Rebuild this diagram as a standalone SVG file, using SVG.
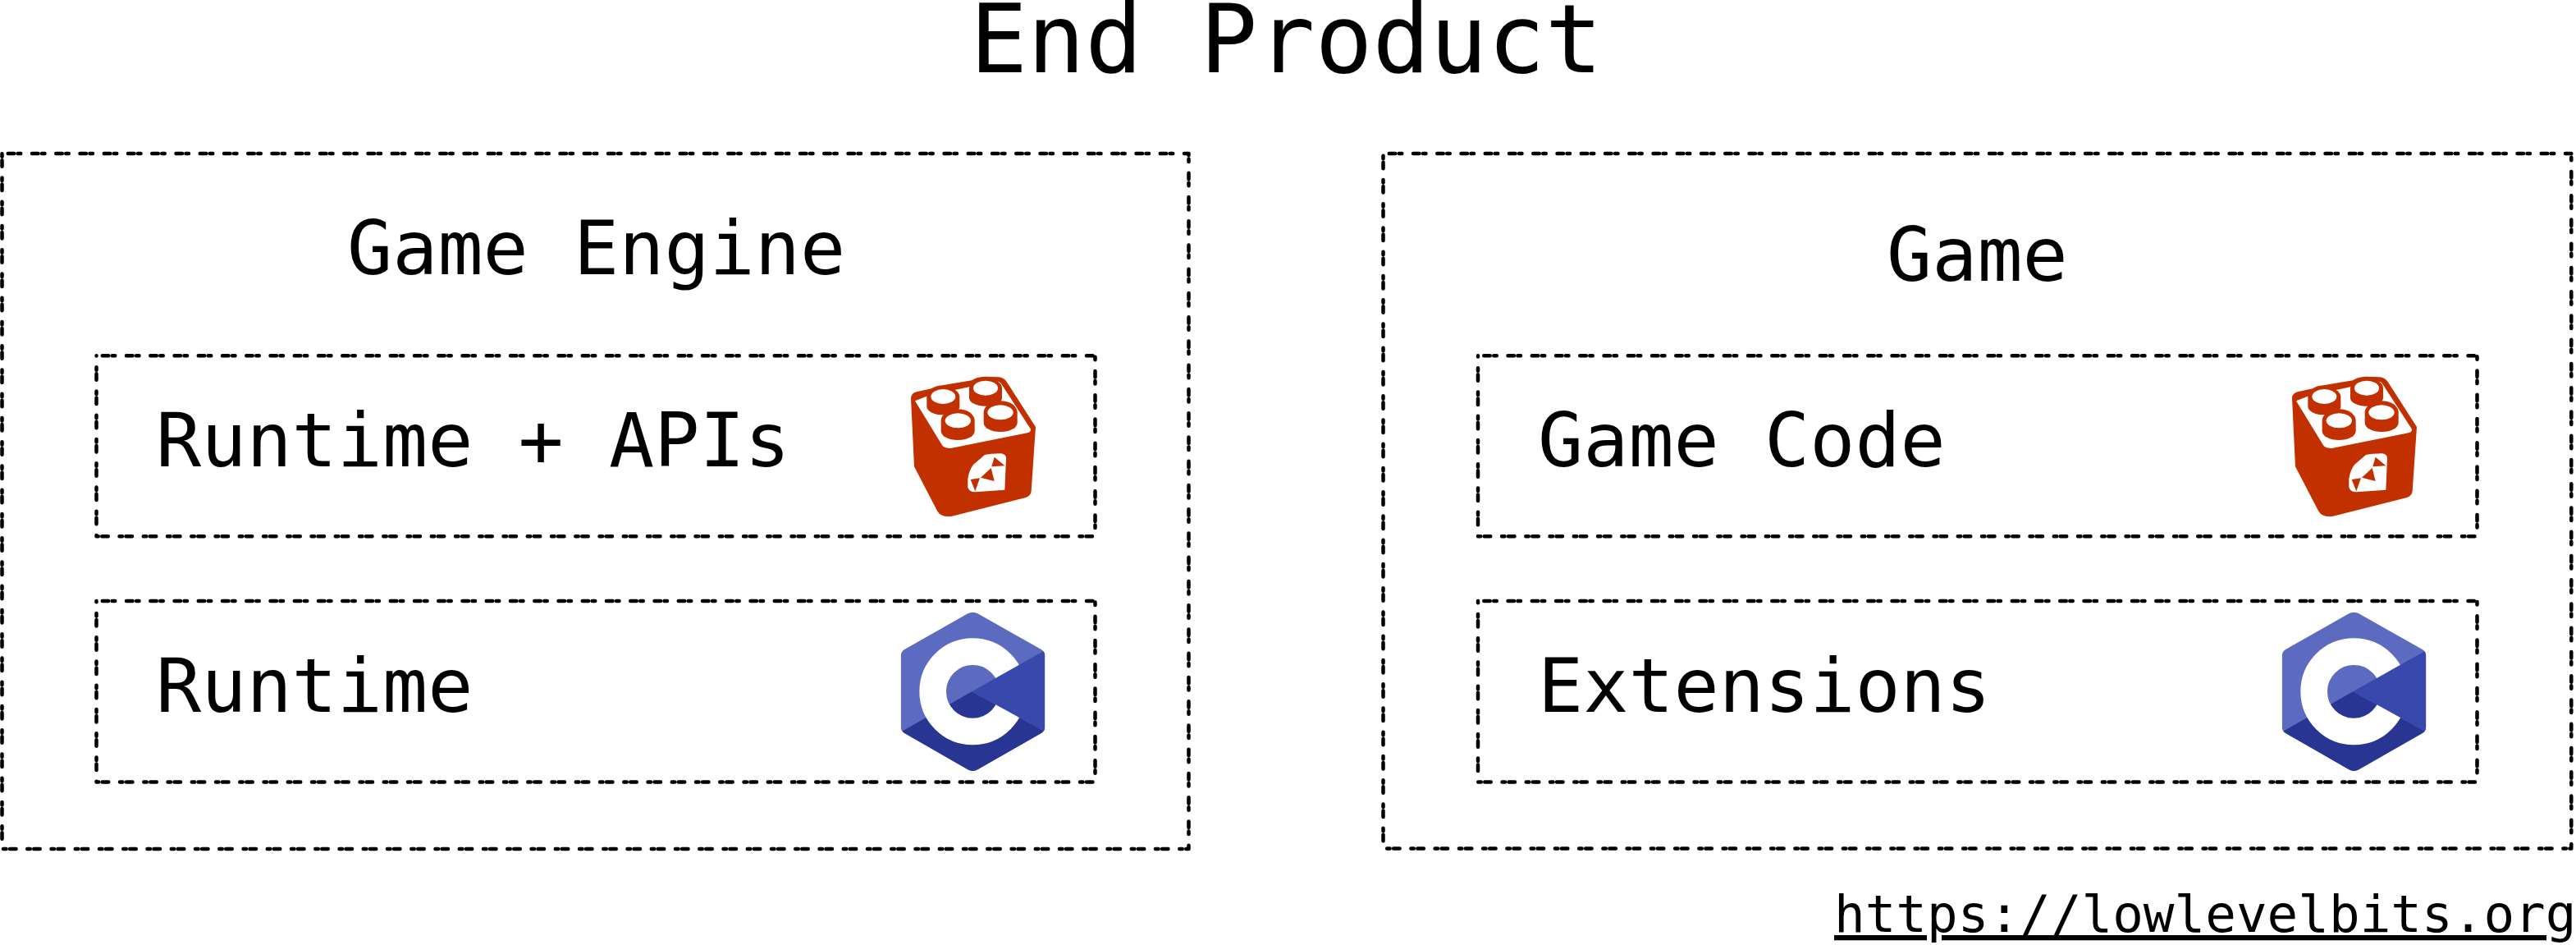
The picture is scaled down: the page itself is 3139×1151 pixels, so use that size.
<svg xmlns="http://www.w3.org/2000/svg" width="3139" height="1151" viewBox="0 0 3139 1151">
<style>
text{font-family:"DejaVu Sans Mono",monospace;fill:#000}
.box{fill:none;stroke:#000;stroke-width:4.5;stroke-dasharray:7.5 4.5 3.5 13.75;stroke-dashoffset:22;stroke-linecap:round;stroke-linejoin:round}
.t{font-size:91.7px}
</style>
<defs>
<clipPath id="hexclip"><path d="M358,82 Q376,72 394,82 L625,212 Q640,220 640,238 L640,495 Q640,512 625,520 L394,652 Q376,662 358,652 L128,520 Q113,512 113,495 L113,238 Q113,220 128,212 Z"/></clipPath>
<g id="lego" transform="scale(0.33333)">
<path fill="#c33000" d="M150,195 Q150,178 170,172 L225,160 Q240,150 265,148 L372,130 Q390,117 420,116 L470,118 Q490,120 500,135 L606,300 L590,535 Q588,552 570,558 L300,626 Q262,632 247,608 L162,445 Z"/>
<path fill="#fff" d="M165,205 L215,185 L370,152 L470,134 Q478,136 482,145 L588,308 Q590,318 575,322 L295,378 Q275,378 265,368 Z"/>
<path fill="#c33000" d="M208,190 A60,36 0 0 1 328,190 L328,226 A60,30 0 0 1 208,226 Z"/>
<path fill="#c33000" d="M363,158 A60,36 0 0 1 483,158 L483,194 A60,30 0 0 1 363,194 Z"/>
<path fill="#c33000" d="M260,277 A61,42 0 0 1 383,277 L383,315 A61,33 0 0 1 260,315 Z"/>
<path fill="#c33000" d="M416,247 A61,42 0 0 1 539,247 L539,285 A61,33 0 0 1 416,285 Z"/>
<g fill="#fff"><ellipse cx="268" cy="189" rx="45" ry="27"/><ellipse cx="423" cy="158" rx="45" ry="27"/><ellipse cx="322" cy="277" rx="47" ry="27"/><ellipse cx="477" cy="247" rx="47" ry="27"/>
<path d="M358,520 L358,490 Q362,460 378,438 L420,402 Q440,397 480,397 Q498,400 498,415 L493,530 L385,538 Q362,538 358,520 Z"/></g>
<path fill="#c33000" d="M455,410 L493,442 L445,445 Z M443,450 L455,498 L405,485 Z M368,492 L402,487 L385,535 Z"/>
</g>
<g id="cpp" transform="scale(0.33333)">
<g clip-path="url(#hexclip)">
<rect x="100" y="60" width="560" height="610" fill="#5c6bc0"/>
<path fill="#283593" d="M373,367 L100,522 L100,670 L660,670 L660,525 Z"/>
<path fill="none" stroke="#fff" stroke-width="98" d="M376,221 A146,146 0 1 0 376,513 A146,146 0 1 0 376,221 Z"/>
<path fill="#3949ab" d="M373,367 L660,205 L660,525 Z"/>
</g>
</g>
</defs>
<g id="connectors"/>
<g id="title"><text x="1182" y="88" style="font-size:116.4px">End Product</text></g>
<g id="game-engine">
<rect class="box" x="2.5" y="187" width="1446" height="847"/>
<text class="t" x="423" y="334">Game Engine</text>
</g>
<g id="runtime-apis">
<rect class="box" x="117.5" y="433.3" width="1217" height="220"/>
<text class="t" x="190" y="568">Runtime + APIs</text>
<use href="#lego" x="1060" y="420"/>
</g>
<g id="runtime">
<rect class="box" x="117.5" y="732" width="1217" height="220.5"/>
<text class="t" x="190" y="867">Runtime</text>
<use href="#cpp" x="1060" y="720"/>
</g>
<g id="game">
<rect class="box" x="1685.5" y="187" width="1447.8" height="846.5"/>
<text class="t" x="2299" y="342">Game</text>
</g>
<g id="game-code">
<rect class="box" x="1801" y="433.3" width="1217.5" height="220"/>
<text class="t" x="1874" y="568">Game Code</text>
<use href="#lego" x="2743" y="420"/>
</g>
<g id="extensions">
<rect class="box" x="1801" y="732" width="1217.5" height="220.5"/>
<text class="t" x="1874" y="867">Extensions</text>
<use href="#cpp" x="2743" y="720"/>
</g>
<g id="url"><text x="2235" y="1135" style="font-size:62.6px;text-decoration:underline">https://lowlevelbits.org</text></g>
</svg>
